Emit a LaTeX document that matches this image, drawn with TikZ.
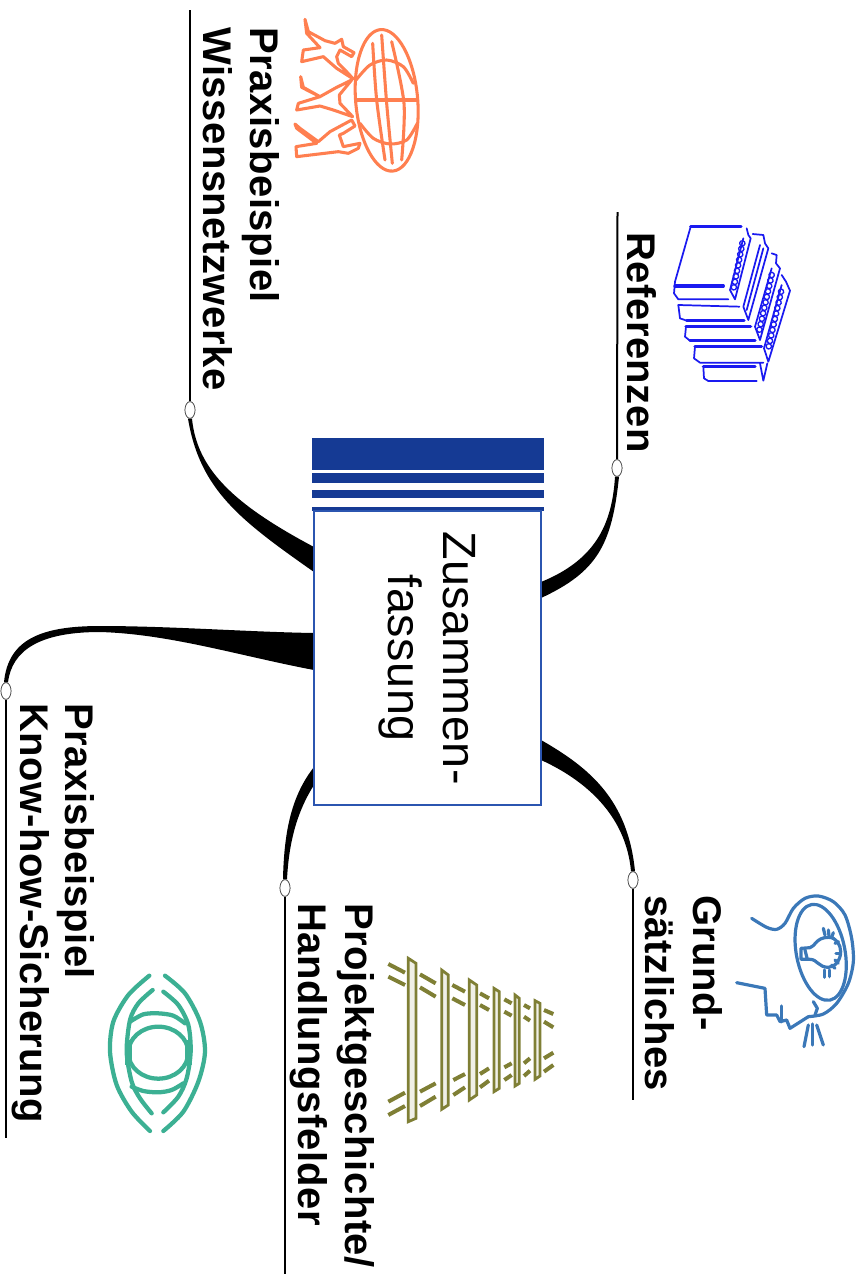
\documentclass[tikz,border=0pt]{standalone}
\usepackage{fontspec}
\setmainfont[LetterSpace=1.3]{Liberation Sans}
\usetikzlibrary{shapes.geometric,decorations.markings}
\definecolor{barblue}{HTML}{153A94}
\definecolor{boxblue}{HTML}{2B55B0}
\definecolor{coral}{HTML}{FF7F50}
\definecolor{bookblue}{HTML}{1A1AF0}
\definecolor{headblue}{HTML}{3B78B8}
\definecolor{railolive}{HTML}{7F7F35}
\definecolor{eyegreen}{HTML}{3CB093}
\tikzset{
  knot/.style={ellipse,draw=black!70,fill=white,line width=0.5pt,minimum width=7.5pt,minimum height=12.5pt,inner sep=0pt},
  leader/.style={line width=1.5pt,black},
  lbl/.style={rotate=-90,anchor=base west,inner sep=0pt,font=\fontsize{30}{36}\selectfont\bfseries},
  centrebox/.style={rectangle,rotate=-90,draw=boxblue,fill=white,line width=0.9pt,minimum width=220.5pt,minimum height=170.25pt,align=center,inner sep=0pt,font=\fontsize{35}{41}\selectfont},
  bar/.style={fill=barblue},
  icon/.style={line cap=round,line join=round},
  coralline/.style={icon,draw=coral,line width=2.3pt},
  bookline/.style={icon,draw=bookblue,line width=1.3pt},
  bookthick/.style={icon,draw=bookblue,line width=2.4pt},
  bookchain/.style={postaction={decorate},decoration={markings,mark=between positions 0 and 1 step 4.2pt with {\draw[draw=bookblue,line width=1pt] (0,0) circle (2pt);}}},
  headline/.style={icon,draw=headblue,line width=2.4pt},
  railline/.style={draw=railolive,line width=3pt},
  sleeper/.style={draw=railolive,line width=2.1pt,fill=white!88!railolive,line join=miter},
  eyeline/.style={icon,draw=eyegreen,line width=3.2pt}
}
\begin{document}
\begin{tikzpicture}[x=0.75pt,y=-0.75pt]
\useasboundingbox (0,0) rectangle (861,1274);
% knots
\node[knot] (nRef) at (617,468) {};
\node[knot] (nWis) at (190,410) {};
\node[knot] (nKno) at (6,691) {};
\node[knot] (nPro) at (285,888) {};
\node[knot] (nGru) at (633,880) {};
% free ends of leaders
\coordinate (eRef) at (617.5,212);
\coordinate (eWis) at (190,10);
\coordinate (eKno) at (6,1138);
\coordinate (ePro) at (285,1274);
\coordinate (eGru) at (633,1100);
% wedge roots on the box
\coordinate (rA) at (541,582); \coordinate (rB) at (541,598);
\coordinate (wA) at (314,547); \coordinate (wB) at (314,572);
\coordinate (kA) at (314,633); \coordinate (kB) at (314,670);
\coordinate (pA) at (314,767); \coordinate (pB) at (314,785);
\coordinate (gA) at (541,740); \coordinate (gB) at (541,760);
% wedges
\fill[black] ([xshift=-1.5pt]nRef.south) .. controls (612,525) and (595,560) .. (rA) -- (rB) .. controls (597,572) and (612,545) .. ([xshift=1.5pt]nRef.south) -- cycle;
\fill[black] ([xshift=1.5pt]nWis.south) .. controls (197,470) and (235,505) .. (wA) -- (wB) .. controls (240,520) and (200,490) .. ([xshift=-1.5pt]nWis.south) -- cycle;
\fill[black] ([xshift=-1.5pt]nKno.north) .. controls (8,640) and (40,626) .. (100,626) .. controls (170,626) and (250,632) .. (kA) -- (kB) .. controls (240,656) and (170,634) .. (100,632) .. controls (40,632) and (12,650) .. ([xshift=1.5pt]nKno.north) -- cycle;
\fill[black] ([xshift=-1.5pt]nPro.north) .. controls (284,830) and (292,795) .. (pA) -- (pB) .. controls (298,810) and (289,840) .. ([xshift=1.5pt]nPro.north) -- cycle;
\fill[black] (gA) .. controls (590,768) and (628,800) .. ([xshift=1.5pt]nGru.north) -- ([xshift=-1.5pt]nGru.north) .. controls (626,815) and (585,780) .. (gB) -- cycle;
% leaders
\draw[leader] (nRef) -- (eRef);
\draw[leader] (nWis) -- (eWis);
\draw[leader] (nKno) -- (eKno);
\draw[leader] (nPro) -- (ePro);
\draw[leader] (nGru) -- (eGru);
\node[knot] at (nRef) {};
\node[knot] at (nWis) {};
\node[knot] at (nKno) {};
\node[knot] at (nPro) {};
\node[knot] at (nGru) {};
% centre
\fill[bar] (312,438) rectangle (544,470);
\fill[bar] (312,473) rectangle (544,483);
\fill[bar] (312,490) rectangle (544,498);
\fill[bar] (312,507) rectangle (544,511);
\node[centrebox] (box) at (427.5,658) {Zusammen-\\fassung};
% labels
\node[lbl] (t1) at (627,232) {Referenzen};
\node[lbl] (t2) at (250,27) {Praxisbeispiel};
\node[lbl] (t3) at (203,27) {Wissensnetzwerke};
\node[lbl] (t4) at (65,703) {Praxisbeispiel};
\node[lbl] (t5) at (20,703) {Know-how-Sicherung};
\node[lbl] (t6) at (345,903) {Projektgeschichte/};
\node[lbl] (t7) at (298,903) {Handlungsfelder};
\node[lbl] (t8) at (693,895) {Grund-};
\node[lbl] (t9) at (645,895) {sätzliches};
% globe and people
\begin{scope}[shift={(280,0)},scale=0.33333]
\draw[coralline] (320,301) ellipse [x radius=93, y radius=213, rotate=5];
\draw[coralline,line width=3pt] (232,300) -- (410,300);
\draw[coralline] plot[smooth] coordinates {(228,240) (270,195) (320,180) (370,200) (400,250)};
\draw[coralline] plot[smooth] coordinates {(240,370) (280,415) (330,432) (380,420) (412,370)};
\draw[coralline] plot[smooth] coordinates {(278,130) (290,300) (315,480)};
\draw[coralline] plot[smooth] coordinates {(305,105) (320,310) (337,490)};
\draw[coralline] plot[smooth] coordinates {(335,125) (372,310) (365,480)};
\draw[coralline] (75,58) -- (85,95) -- (135,122) -- (165,130) -- (185,118) -- (190,140) -- (222,158) -- (215,170) -- (180,150) -- (170,170) -- (175,190) -- (195,210) -- (220,237) -- (170,205) -- (130,170) -- (65,185) -- (70,150) -- (120,143) -- (80,100) -- cycle;
\draw[coralline] (62,230) -- (70,262) -- (120,290) -- (170,262) -- (215,240) -- (178,285) -- (180,310) -- (218,350) -- (160,330) -- (120,318) -- (50,330) -- (55,310) -- (120,290) -- (65,262) -- cycle;
\draw[coralline] (45,372) -- (60,385) -- (115,425) -- (150,395) -- (215,360) -- (225,378) -- (190,400) -- (178,405) -- (190,440) -- (240,430) -- (235,445) -- (205,460) -- (175,455) -- (50,470) -- (48,440) -- (110,430) -- (50,385) -- cycle;
\end{scope}
% books
\begin{scope}[shift={(660,210)},scale=0.33333]
\draw[bookthick] (92,50) -- (243,50);
\draw[bookline] (92,50) -- (45,215) -- (42,250) -- (55,268) -- (205,268);
\draw[bookthick] (45,228) -- (190,228);
\draw[bookline] (260,55) -- (265,75) -- (272,85) -- (225,268) -- (210,240) -- (250,85);
\path[bookchain] (247,100) -- (220,240);
\draw[bookline] (55,285) -- (60,325) -- (80,332);
\draw[bookthick] (80,332) -- (252,332);
\draw[bookline] (55,285) -- (238,290);
\draw[bookline] (278,72) -- (310,75) -- (315,100) -- (325,115) -- (265,330) -- (250,290) -- (300,105);
\draw[bookline] (310,115) -- (260,300);
\draw[bookthick] (78,350) -- (272,350);
\draw[bookline] (78,350) -- (75,380) -- (90,392);
\draw[bookthick] (90,392) -- (285,392);
\draw[bookline] (335,130) -- (350,135) -- (348,160) -- (360,175) -- (300,390) -- (285,350) -- (335,175);
\path[bookchain] (335,195) -- (297,365);
\draw[bookthick] (105,410) -- (305,410);
\draw[bookline] (105,410) -- (102,445) -- (120,458) -- (310,458);
\draw[bookline] (365,195) -- (378,215) -- (390,242) -- (325,455) -- (312,415) -- (365,225);
\path[bookchain] (363,245) -- (325,415);
\draw[bookthick] (130,470) -- (285,470);
\draw[bookline] (130,470) -- (132,505) -- (145,513) -- (290,513);
\draw[bookline] (300,460) -- (310,512) -- (322,460);
\end{scope}
% head with bulb
\begin{scope}[shift={(730,880)},scale=0.33333]
\draw[headline] plot[smooth] coordinates {(65,115) (110,142) (140,148) (165,130) (190,85) (225,55) (265,48) (310,65) (345,105) (365,175) (370,245) (355,310) (320,370) (280,402) (235,410)};
\draw[headline] (235,410) -- (180,445) -- (170,420) -- (150,425) -- (140,405) -- (110,405) -- (105,325) -- (20,308);
\draw[headline] (272,217) ellipse [x radius=73, y radius=146, rotate=11];
\draw[headline] (213,205) -- (240,203) .. controls (255,200) and (258,172) .. (295,172) .. controls (320,172) and (332,195) .. (332,215) .. controls (332,240) and (315,262) .. (295,262) .. controls (265,262) and (262,238) .. (240,238) -- (213,238) -- cycle;
\draw[headline] (225,210) -- (232,238);
\foreach \a/\b/\c/\d in {280/145/285/165,295/150/297/168,310/158/305/172,325/185/315/190,330/220/318/220,325/250/315/240,315/265/305/255,298/290/298/270,283/292/283/270,155/378/155/425,235/435/222/500,248/432/248/495,260/435/280/495}
  \draw[headline] (\a,\b) -- (\c,\d);
\draw[headline] (250,365) -- (262,385) -- (255,405);
\end{scope}
% railway
\begin{scope}[shift={(380,950)},scale=0.33333]
\foreach \a/\b/\c/\d in {25/42/75/68,25/80/75/105,120/73/167/100,120/112/167/140,217/105/255/125,217/145/255/165,300/130/327/145,300/165/327/180,373/148/395/160,373/185/395/197,432/165/450/175,432/200/450/212,492/180/520/192,492/215/520/232,25/455/75/428,25/495/75/468,120/425/167/400,120/468/167/440,220/390/255/372,220/435/255/412,300/372/327/355,300/412/327/392,373/352/395/340,373/390/395/375,432/340/450/325,432/378/450/362,492/325/520/308,492/365/520/345}
  \draw[railline] (\a,\b) -- (\c,\d);
\draw[sleeper] (85,25) -- (108,40) -- (108,505) -- (85,515) -- cycle;
\draw[sleeper] (185,60) -- (205,75) -- (205,465) -- (185,478) -- cycle;
\draw[sleeper] (268,90) -- (290,105) -- (290,435) -- (268,450) -- cycle;
\draw[sleeper] (342,115) -- (358,125) -- (358,415) -- (342,425) -- cycle;
\draw[sleeper] (405,135) -- (418,145) -- (418,400) -- (405,408) -- cycle;
\draw[sleeper] (465,152) -- (480,160) -- (480,378) -- (465,388) -- cycle;
\end{scope}
% eye
\begin{scope}[shift={(100,965)},scale=0.33333]
\draw[eyeline] plot[smooth] coordinates {(148,32) (85,90) (40,170) (30,260) (50,360) (95,440) (150,498)};
\draw[eyeline] plot[smooth] coordinates {(195,32) (255,85) (300,170) (315,260) (295,350) (250,440) (190,498)};
\draw[eyeline] plot[smooth] coordinates {(158,75) (115,115) (90,165) (80,260) (95,350) (120,400) (155,445)};
\draw[eyeline] plot[smooth] coordinates {(190,80) (235,120) (265,180) (272,260) (260,340) (235,395) (190,442)};
\draw[eyeline] plot[smooth] coordinates {(90,170) (130,148) (175,145) (220,152) (255,175)};
\draw[eyeline] plot[smooth] coordinates {(95,365) (130,378) (175,382) (215,375) (250,355)};
\draw[eyeline] (175,263) ellipse [x radius=90, y radius=78];
\fill[eyegreen] (75,225) rectangle (95,300);
\fill[eyegreen] (255,225) rectangle (275,300);
\end{scope}
\end{tikzpicture}
\end{document}
